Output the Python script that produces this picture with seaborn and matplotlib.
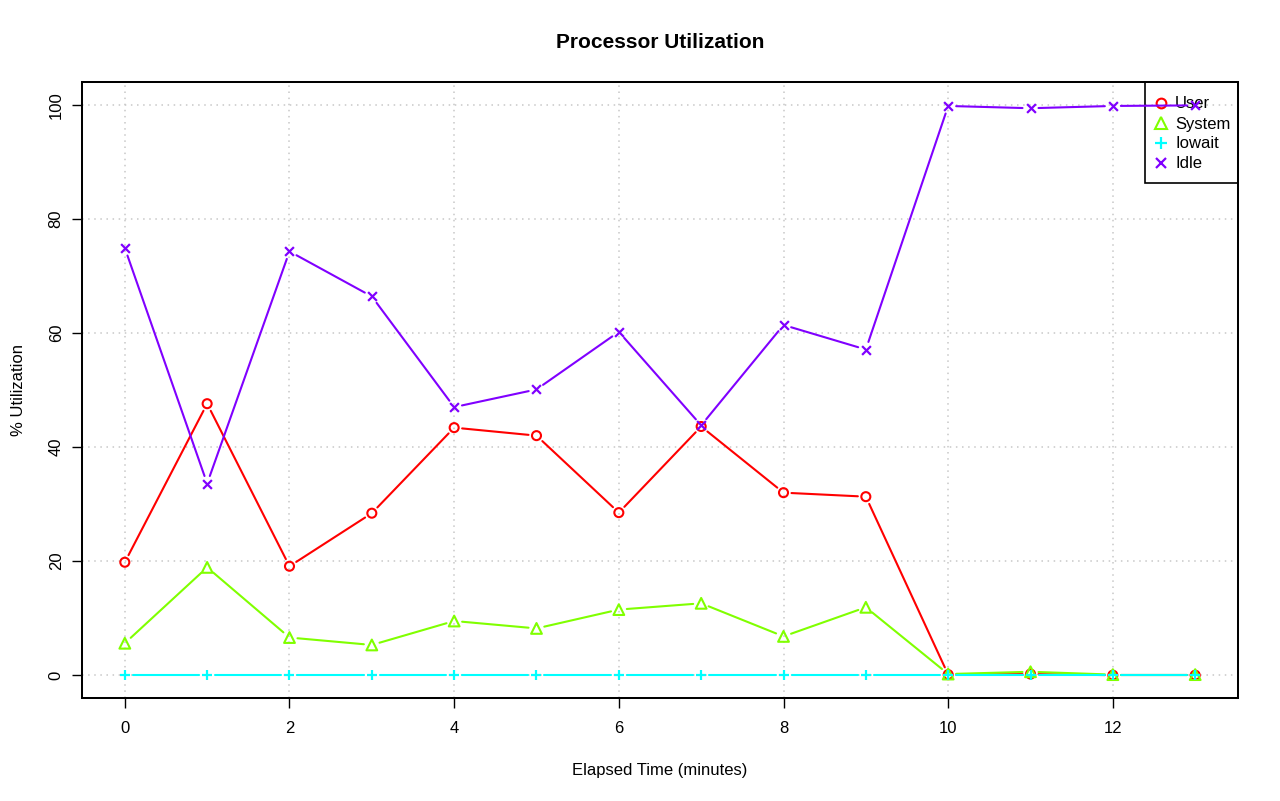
import numpy as np
import pandas as pd
import matplotlib
matplotlib.use("Agg")
import matplotlib.pyplot as plt
import seaborn as sns
from matplotlib.lines import Line2D
from matplotlib.patches import Rectangle

minutes = list(range(14))
user = [19.8, 47.6, 19.1, 28.4, 43.4, 42.0, 28.5, 43.6, 32.0, 31.3, 0.1, 0.2, 0.0, 0.0]
system = [5.6, 18.9, 6.6, 5.3, 9.5, 8.2, 11.5, 12.6, 6.8, 11.9, 0.2, 0.6, 0.1, 0.1]
iowait = [0.0] * 14
idle = [74.9, 33.6, 74.3, 66.4, 47.0, 50.1, 60.2, 43.8, 61.4, 57.1, 99.8, 99.4, 99.8, 99.9]

series_names = ["User", "System", "Iowait", "Idle"]
series_values = [user, system, iowait, idle]
colors = ["#FF0000", "#80FF00", "#00FFFF", "#8000FF"]
markers = ["o", "^", "+", "x"]
x_ticks = [0, 2, 4, 6, 8, 10, 12]
y_ticks = [0, 20, 40, 60, 80, 100]

sns.set_style("white")
plt.rcParams["font.family"] = ["Liberation Sans", "DejaVu Sans"]
plt.rcParams["text.color"] = "black"
plt.rcParams["axes.labelcolor"] = "black"
plt.rcParams["xtick.color"] = "black"
plt.rcParams["ytick.color"] = "black"

df = pd.DataFrame({
    "Minute": minutes * 4,
    "Value": sum(series_values, []),
    "Series": sum([[n] * len(minutes) for n in series_names], []),
})

fig = plt.figure(figsize=(12.8, 8.01), dpi=100)
ax = fig.add_axes([82 / 1280, 1 - 698 / 801, (1238 - 82) / 1280, (698 - 82) / 801])
ax.set_xlim(-0.52, 13.52)
ax.set_ylim(-4, 104)

# grid
for xv in x_ticks:
    ax.axvline(xv, color="#C8C8C8", lw=1.1, ls=(0, (1, 3)), zorder=0)
for yv in y_ticks:
    ax.axhline(yv, color="#C8C8C8", lw=1.1, ls=(0, (1, 3)), zorder=0)

# lines with gaps around points (R type="b"), computed from data via axes transform
fig.canvas.draw()
gap = 8.0  # pixels
seg_rows = []
for name, vals in zip(series_names, series_values):
    pts = ax.transData.transform(np.column_stack([minutes, vals]))
    for i in range(len(pts) - 1):
        p0, p1 = pts[i], pts[i + 1]
        d = p1 - p0
        L = np.hypot(*d)
        if L <= 2 * gap:
            continue
        u = d / L
        a = ax.transData.inverted().transform(p0 + u * gap)
        b = ax.transData.inverted().transform(p1 - u * gap)
        seg_rows.append((name, f"{name}{i}", a[0], a[1]))
        seg_rows.append((name, f"{name}{i}", b[0], b[1]))
seg = pd.DataFrame(seg_rows, columns=["Series", "Seg", "Minute", "Value"])

for k, (name, col) in enumerate(zip(series_names, colors)):
    sub = seg[seg["Series"] == name]
    sns.lineplot(data=sub, x="Minute", y="Value", units="Seg", estimator=None,
                 color=col, lw=1.5, ax=ax, legend=False, zorder=2 + k, sort=False)

for k, (name, col, mk) in enumerate(zip(series_names, colors, markers)):
    sub = df[df["Series"] == name]
    if mk in ("+", "x"):
        kw = dict(color=col, s=55 if mk == "+" else 40, linewidth=1.6)
    else:
        kw = dict(facecolor="none", edgecolor=col, s=42 if mk == "o" else 60, linewidth=1.5)
    sns.scatterplot(data=sub, x="Minute", y="Value", marker=mk, ax=ax,
                    legend=False, zorder=2 + k, **kw)

ax.set_xticks(x_ticks)
ax.set_yticks(y_ticks)
ax.set_yticklabels([str(v) for v in y_ticks], rotation=90, va="center")
ax.tick_params(axis="both", direction="out", length=7.2, width=1, color="black",
               labelcolor="black", labelsize=12, bottom=True, left=True)
ax.tick_params(axis="x", pad=9.5)
ax.tick_params(axis="y", pad=6)
for sp in ax.spines.values():
    sp.set_color("black")
    sp.set_linewidth(1.45)
    sp.set_visible(True)

ax.set_xlabel("Elapsed Time (minutes)", fontsize=12, labelpad=19, color="black")
ax.set_ylabel("% Utilization", fontsize=12, labelpad=16, color="black")
ax.text(0.5, (698 - 42) / 616, "Processor Utilization", transform=ax.transAxes,
        ha="center", va="center", fontsize=15, fontweight="bold", color="black")

handles = []
for name, col, mk in zip(series_names, colors, markers):
    if mk in ("+", "x"):
        h = Line2D([], [], ls="none", marker=mk, color=col, markersize=8 if mk == "+" else 7, mew=1.6)
    else:
        h = Line2D([], [], ls="none", marker=mk, markerfacecolor="none", markeredgecolor=col,
                   markersize=7 if mk == "o" else 8, mew=1.5)
    handles.append(h)

# legend box (R-style, transparent)
ax.add_patch(Rectangle(((1145 - 82) / 1156, (698 - 183) / 616), 93 / 1156, 101 / 616,
                       transform=ax.transAxes, facecolor="none", edgecolor="black",
                       lw=1.2, zorder=1, clip_on=False))
leg = ax.legend(handles, series_names, loc="upper left",
                bbox_to_anchor=((1152.7 - 82) / 1156, (698 - 96.5) / 616),
                borderaxespad=0, borderpad=0, fontsize=12, frameon=False,
                handlelength=1.0, handletextpad=0.34, labelspacing=0.3)
leg.set_zorder(1)
for t in leg.get_texts():
    t.set_color("black")

fig.savefig("out.png", dpi=100)
